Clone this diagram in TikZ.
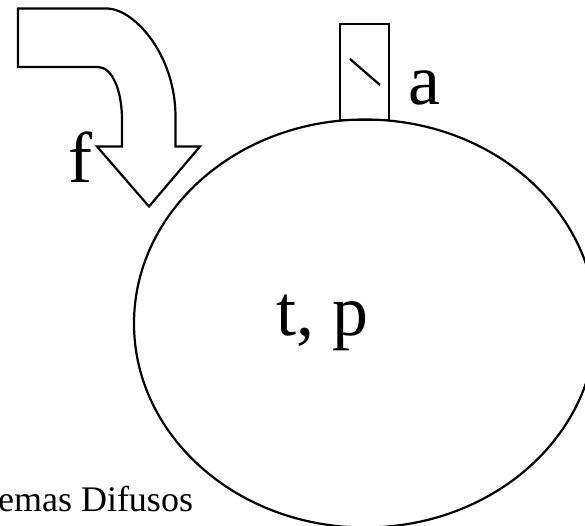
\documentclass[tikz,border=0pt]{standalone}
\usepackage{fontspec}
\setmainfont{Liberation Serif}
\usetikzlibrary{shapes.geometric}
\tikzset{
  shapeline/.style={draw=black,line width=2.2pt,line join=miter},
  biglabel/.style={anchor=base west,inner sep=0pt,outer sep=0pt,font=\fontsize{72}{72}\selectfont},
  smalllabel/.style={anchor=base east,inner sep=0pt,outer sep=0pt,font=\fontsize{36}{36}\selectfont}
}
\begin{document}
\begin{tikzpicture}[x=1pt,y=-1pt]
\useasboundingbox (0,0) rectangle (585,525);
\clip (0,0) rectangle (585,525);
\node[shapeline,ellipse,minimum width=462pt,minimum height=408pt,inner sep=0pt] (tank) at (365,323.5) {};
\node[shapeline,rectangle,minimum width=49pt,minimum height=96pt,inner sep=0pt] (valve) at (364.5,72) {};
\draw[shapeline] (350,59) -- (380,85);
\draw[shapeline] (18,8.5) -- (108,8.5)
  .. controls (135,10) and (175.5,55) .. (175.5,117)
  -- (175.5,146.5) -- (200,146.5) -- (149,206.5) -- (97,146.5) -- (122,146.5) -- (122,120)
  .. controls (122,90) and (112,67) .. (98,67)
  -- (18,67) -- cycle;
\node[biglabel] (flabel) at (68,182) {f};
\node[biglabel] (alabel) at (408,104.5) {a};
\node[biglabel] (tplabel) at (276,335) {t, p};
\node[smalllabel] (caption) at (193,511) {temas Difusos};
\end{tikzpicture}
\end{document}
